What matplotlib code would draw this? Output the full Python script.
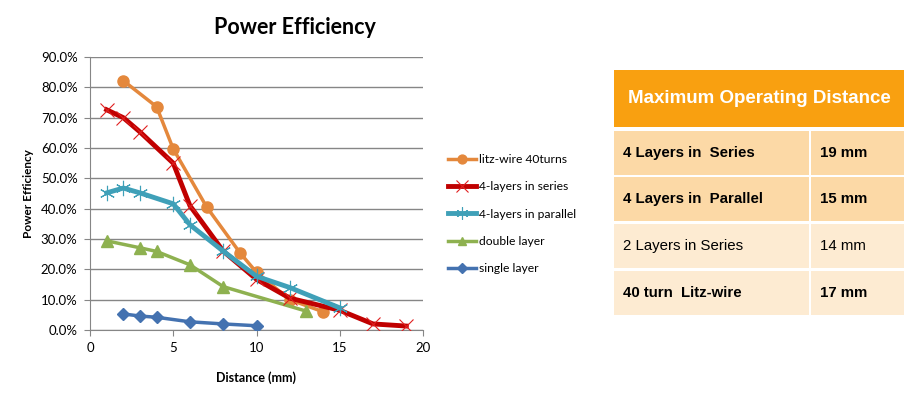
import matplotlib.pyplot as plt
import numpy as np
from matplotlib.patches import Rectangle
from matplotlib.ticker import PercentFormatter

plt.rcParams['font.family'] = ['Lato', 'DejaVu Sans']

# efficiency curves, distance in mm, efficiency as fraction
litz_x = [2, 4, 5, 7, 9, 10, 12, 14]
litz_y = [0.822, 0.736, 0.597, 0.406, 0.255, 0.19, 0.10, 0.06]
series_x = [1, 2, 3, 5, 6, 8, 10, 12, 15, 17, 19]
series_y = [0.726, 0.70, 0.653, 0.55, 0.41, 0.26, 0.167, 0.105, 0.065, 0.02, 0.013]
parallel_x = [1, 2, 3, 5, 6, 8, 10, 12, 15]
parallel_y = [0.452, 0.468, 0.452, 0.416, 0.347, 0.26, 0.177, 0.14, 0.073]
double_x = [1, 3, 4, 6, 8, 13]
double_y = [0.294, 0.271, 0.259, 0.215, 0.143, 0.062]
single_x = [2, 3, 4, 6, 8, 10]
single_y = [0.053, 0.046, 0.042, 0.027, 0.02, 0.014]

table_header = "Maximum Operating Distance"
table_names = ["4 Layers in  Series", "4 Layers in  Parallel", "2 Layers in Series", "40 turn  Litz-wire"]
table_values = ["19 mm", "15 mm", "14 mm", "17 mm"]
table_bold = [True, True, False, True]

W, H = 915, 403
fig = plt.figure(figsize=(W / 100, H / 100), dpi=100)
ax = fig.add_axes([90 / W, 1 - 330 / H, 333 / W, 273 / H])

ax.plot(litz_x, litz_y, color='#E4883C', lw=2.5, marker='o', ms=8, label='litz-wire 40turns', zorder=3)
ax.plot(series_x, series_y, color='#C00000', lw=3.5, marker='x', ms=10, mew=0.8, mec='#E02020',
        label='4-layers in series', zorder=4)
ax.plot(parallel_x, parallel_y, color='#3FA0B8', lw=3.5, marker=(6, 2, 0), ms=11, mew=0.8, mec='#3FA0B8',
        label='4-layers in parallel', zorder=5)
ax.plot(double_x, double_y, color='#8EB150', lw=2.5, marker='^', ms=8, label='double layer', zorder=3)
ax.plot(single_x, single_y, color='#4472B0', lw=2.5, marker='D', ms=6, label='single layer', zorder=3)

ax.set_xlim(0, 20)
ax.set_ylim(0, 0.9)
ax.set_xticks(np.arange(0, 21, 5))
ax.set_yticks(np.arange(0, 0.91, 0.1))
ax.yaxis.set_major_formatter(PercentFormatter(1.0, decimals=1))
ax.grid(axis='y', color='#868686', lw=1)
ax.set_axisbelow(True)
for s in ['top', 'right']:
    ax.spines[s].set_visible(False)
for s in ['left', 'bottom']:
    ax.spines[s].set_color('#868686')
ax.tick_params(direction='out', length=4, color='#868686', labelsize=9.5, pad=5)

fig.text(295 / W, 1 - 27 / H, "Power Efficiency", ha='center', va='center', fontsize=15.5, fontweight='bold')
fig.text(256 / W, 1 - 378 / H, "Distance (mm)", ha='center', va='center', fontsize=9, fontweight='bold')
fig.text(28 / W, 1 - 194 / H, "Power Efficiency", ha='center', va='center', fontsize=8.5,
         fontweight='bold', rotation=90)

ax.legend(loc='upper left', bbox_to_anchor=(437 / W, 1 - 143 / H), bbox_transform=fig.transFigure,
          frameon=False, fontsize=8.7, labelspacing=1.35, handlelength=2.3, handletextpad=0.3,
          markerscale=0.8)

# table on the right
tx0, tx1, tsplit = 614, 904, 810
header_top, header_bot = 70, 127
row_tops = [131, 177, 224, 271]
row_h = 44
row_colors = ['#FCD9A6', '#FCD9A6', '#FDEBD2', '#FDEBD2']
tf = ['Liberation Sans', 'DejaVu Sans']

def box(x0, y0, x1, y1, color):
    fig.patches.append(Rectangle((x0 / W, 1 - y1 / H), (x1 - x0) / W, (y1 - y0) / H,
                                 transform=fig.transFigure, facecolor=color, edgecolor='none'))

box(tx0, header_top, tx1, header_bot, '#F9A010')
fig.text((tx0 + tx1) / 2 / W, 1 - (header_top + header_bot) / 2 / H, table_header, ha='center', va='center',
         color='white', fontsize=13.5, fontweight='bold', family=tf)
for top, col, name, val, bold in zip(row_tops, row_colors, table_names, table_values, table_bold):
    box(tx0, top, tsplit - 1, top + row_h, col)
    box(tsplit + 1, top, tx1, top + row_h, col)
    yc = 1 - (top + row_h / 2) / H
    w = 'bold' if bold else 'normal'
    fig.text((tx0 + 9) / W, yc, name, ha='left', va='center', fontsize=10.8, fontweight=w, family=tf)
    fig.text((tsplit + 10) / W, yc, val, ha='left', va='center', fontsize=10.8, fontweight=w, family=tf)

fig.savefig('out.png', dpi=100)
